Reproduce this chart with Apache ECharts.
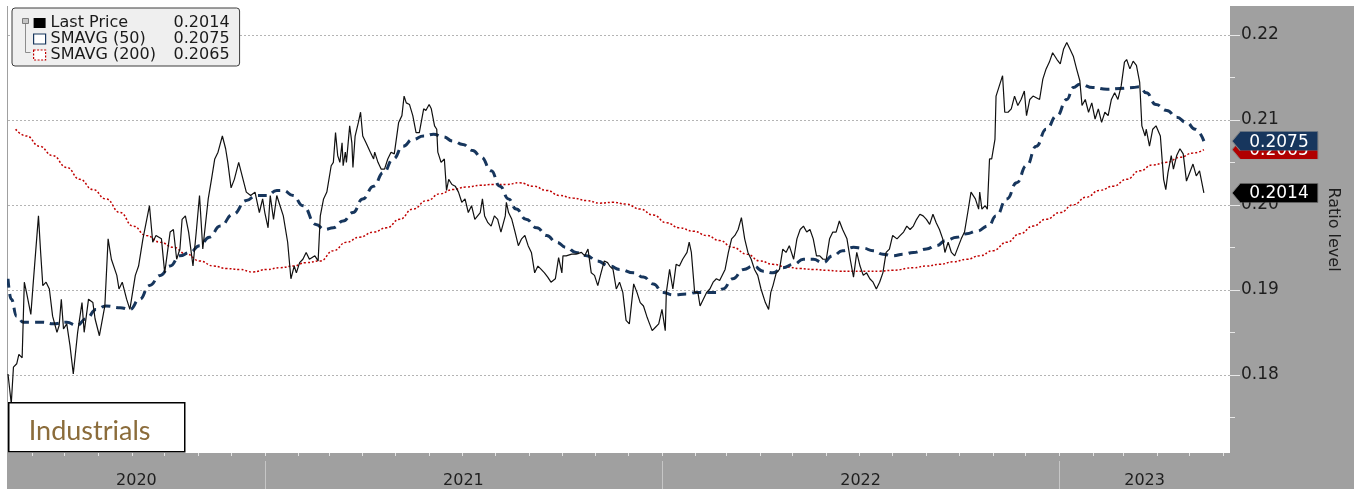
<!DOCTYPE html>
<html>
<head>
<meta charset="utf-8">
<title>Industrials ratio</title>
<script src="https://cdn.jsdelivr.net/npm/echarts@6/dist/echarts.min.js"></script>
<style>
  html, body { margin: 0; padding: 0; background: #fff; }
  #chart { position: absolute; left: 7px; top: 6px; width: 1347px; height: 483px; }
</style>
</head>
<body>
<div id="chart"></div>
<script>
// x values are calendar days counted from 2020-01-01
const priceDays = [
  130, 133, 135, 138, 140, 143, 145, 147, 151, 153,
  158, 160, 162, 165, 168, 171, 175, 177, 179, 181,
  184, 187, 190, 194, 198, 200, 204, 208, 210, 214,
  219, 222, 225, 230, 232, 235, 239, 242, 247, 250,
  254, 260, 263, 266, 271, 274, 279, 282, 285, 288,
  290, 293, 296, 300, 303, 306, 309, 314, 317, 320,
  323, 327, 330, 332, 335, 338, 342, 346, 349, 353,
  357, 361, 364, 366, 369, 371, 374, 377, 380, 383,
  387, 390, 393, 395, 398, 401, 404, 407, 412, 415,
  417, 420, 423, 427, 429, 431, 433, 435, 437, 438,
  440, 441, 444, 446, 447, 449, 452, 454, 456, 459,
  463, 466, 467, 470, 473, 476, 479, 482, 485, 489,
  492, 494, 496, 499, 502, 505, 508, 512, 514, 517,
  519, 522, 524, 525, 528, 531, 533, 535, 538, 541,
  544, 547, 550, 553, 556, 559, 564, 566, 568, 571,
  574, 577, 580, 583, 587, 588, 590, 593, 596, 599,
  602, 605, 608, 611, 614, 617, 620, 623, 626, 629,
  633, 636, 639, 640, 643, 648, 652, 657, 660, 663,
  666, 669, 672, 675, 678, 681, 683, 686, 689, 692,
  695, 698, 701, 705, 708, 711, 714, 717, 719, 722,
  725, 728, 731, 734, 735, 738, 741, 744, 747, 750,
  754, 756, 758, 761, 764, 766, 769, 772, 775, 778,
  781, 784, 789, 792, 795, 798, 801, 804, 807, 810,
  813, 816, 819, 822, 826, 829, 831, 833, 836, 839,
  842, 845, 848, 852, 855, 858, 861, 864, 867, 870,
  873, 876, 879, 882, 885, 888, 891, 894, 897, 901,
  904, 907, 910, 913, 916, 919, 922, 925, 928, 931,
  934, 937, 940, 943, 947, 950, 953, 956, 959, 962,
  965, 968, 971, 974, 977, 980, 983, 986, 989, 991,
  994, 997, 1000, 1003, 1006, 1009, 1012, 1015, 1019, 1022,
  1023, 1025, 1028, 1030, 1032, 1034, 1037, 1038, 1041, 1044,
  1046, 1049, 1052, 1055, 1058, 1061, 1064, 1066, 1069, 1072,
  1075, 1078, 1081, 1084, 1087, 1090, 1094, 1097, 1100, 1103,
  1106, 1109, 1112, 1115, 1117, 1120, 1123, 1126, 1129, 1132,
  1135, 1138, 1141, 1144, 1147, 1150, 1153, 1156, 1158, 1161,
  1164, 1167, 1170, 1172, 1175, 1176, 1179, 1182, 1185, 1189,
  1192, 1194, 1196, 1199, 1201, 1204, 1207, 1210, 1213, 1216,
  1219, 1222, 1225, 1229
];
const priceValues = [
  0.1801, 0.1766, 0.1809, 0.1813, 0.1824, 0.1820, 0.1909, 0.1897, 0.1871, 0.1905,
  0.1987, 0.1944, 0.1905, 0.1909, 0.1901, 0.1869, 0.1850, 0.1858, 0.1889, 0.1854,
  0.1860, 0.1834, 0.1801, 0.1850, 0.1885, 0.1850, 0.1889, 0.1885, 0.1866, 0.1846,
  0.1881, 0.1960, 0.1936, 0.1917, 0.1901, 0.1909, 0.1889, 0.1877, 0.1917, 0.1928,
  0.1960, 0.1999, 0.1956, 0.1964, 0.1960, 0.1920, 0.1968, 0.1971, 0.1936, 0.1948,
  0.1983, 0.1987, 0.1968, 0.1928, 0.1968, 0.2011, 0.1948, 0.2007, 0.2030, 0.2054,
  0.2062, 0.2081, 0.2066, 0.2050, 0.2020, 0.2030, 0.2050, 0.2030, 0.2015, 0.2011,
  0.2015, 0.1991, 0.2007, 0.1991, 0.1973, 0.2011, 0.1983, 0.2011, 0.1999, 0.1987,
  0.1956, 0.1913, 0.1928, 0.1920, 0.1932, 0.1936, 0.1944, 0.1936, 0.1940, 0.1934,
  0.1987, 0.2007, 0.2015, 0.2046, 0.2050, 0.2085, 0.2058, 0.2050, 0.2073, 0.2046,
  0.2062, 0.2050, 0.2093, 0.2073, 0.2044, 0.2081, 0.2097, 0.2109, 0.2081, 0.2073,
  0.2062, 0.2054, 0.2062, 0.2050, 0.2042, 0.2042, 0.2054, 0.2062, 0.2060, 0.2097,
  0.2105, 0.2128, 0.2120, 0.2118, 0.2105, 0.2085, 0.2085, 0.2113, 0.2111, 0.2118,
  0.2113, 0.2093, 0.2089, 0.2062, 0.2050, 0.2054, 0.2017, 0.2030, 0.2024, 0.2022,
  0.2015, 0.2003, 0.2007, 0.1991, 0.1999, 0.1983, 0.1991, 0.2007, 0.1987, 0.1979,
  0.1975, 0.1987, 0.1983, 0.1968, 0.1987, 0.2003, 0.1991, 0.1983, 0.1968, 0.1952,
  0.1960, 0.1964, 0.1952, 0.1944, 0.1920, 0.1928, 0.1924, 0.1920, 0.1915, 0.1909,
  0.1913, 0.1938, 0.1920, 0.1940, 0.1940, 0.1942, 0.1942, 0.1944, 0.1940, 0.1948,
  0.1920, 0.1917, 0.1905, 0.1920, 0.1934, 0.1932, 0.1928, 0.1924, 0.1901, 0.1909,
  0.1897, 0.1864, 0.1860, 0.1907, 0.1897, 0.1885, 0.1881, 0.1869, 0.1862, 0.1852,
  0.1856, 0.1860, 0.1877, 0.1852, 0.1897, 0.1924, 0.1901, 0.1930, 0.1928, 0.1936,
  0.1944, 0.1956, 0.1944, 0.1897, 0.1897, 0.1881, 0.1889, 0.1897, 0.1901, 0.1909,
  0.1913, 0.1911, 0.1924, 0.1944, 0.1960, 0.1964, 0.1971, 0.1985, 0.1960, 0.1944,
  0.1936, 0.1924, 0.1917, 0.1901, 0.1885, 0.1877, 0.1897, 0.1905, 0.1920, 0.1924,
  0.1948, 0.1944, 0.1952, 0.1936, 0.1960, 0.1971, 0.1975, 0.1968, 0.1971, 0.1960,
  0.1940, 0.1940, 0.1936, 0.1936, 0.1960, 0.1968, 0.1968, 0.1981, 0.1971, 0.1960,
  0.1936, 0.1915, 0.1944, 0.1928, 0.1917, 0.1920, 0.1913, 0.1909, 0.1901, 0.1909,
  0.1920, 0.1944, 0.1948, 0.1964, 0.1960, 0.1964, 0.1968, 0.1975, 0.1971, 0.1975,
  0.1983, 0.1989, 0.1987, 0.1983, 0.1977, 0.1989, 0.1979, 0.1971, 0.1960, 0.1944,
  0.1956, 0.1944, 0.1940, 0.1950, 0.1960, 0.1968, 0.1991, 0.2015, 0.2007, 0.1995,
  0.2015, 0.1995, 0.1999, 0.1995, 0.2054, 0.2054, 0.2077, 0.2128, 0.2140, 0.2152,
  0.2109, 0.2109, 0.2113, 0.2128, 0.2117, 0.2124, 0.2134, 0.2105, 0.2124, 0.2128,
  0.2126, 0.2124, 0.2148, 0.2160, 0.2168, 0.2179, 0.2171, 0.2166, 0.2183, 0.2191,
  0.2183, 0.2175, 0.2160, 0.2146, 0.2117, 0.2124, 0.2109, 0.2120, 0.2101, 0.2113,
  0.2097, 0.2109, 0.2105, 0.2124, 0.2132, 0.2124, 0.2140, 0.2168, 0.2171, 0.2160,
  0.2169, 0.2164, 0.2144, 0.2093, 0.2081, 0.2089, 0.2069, 0.2089, 0.2093, 0.2081,
  0.2030, 0.2018, 0.2038, 0.2058, 0.2042, 0.2058, 0.2066, 0.2060, 0.2028, 0.2038,
  0.2048, 0.2034, 0.2040, 0.2014
];

const sma50Days = [
  130, 133, 138, 144, 153, 162, 171, 184, 193, 202,
  211, 220, 233, 242, 251, 260, 270, 279, 288, 297,
  306, 315, 325, 337, 349, 358, 368, 377, 383, 392,
  401, 413, 421, 429, 438, 447, 456, 466, 475, 484,
  493, 502, 512, 521, 530, 539, 548, 557, 565, 574,
  582, 590, 597, 606, 616, 625, 634, 643, 652, 662,
  671, 683, 692, 705, 714, 723, 732, 741, 754, 763,
  772, 781, 787, 796, 806, 815, 824, 833, 842, 852,
  861, 870, 879, 888, 897, 907, 916, 925, 934, 943,
  953, 962, 974, 983, 992, 1002, 1011, 1020, 1031, 1038,
  1048, 1057, 1066, 1075, 1084, 1094, 1103, 1109, 1115, 1127,
  1140, 1152, 1164, 1170, 1176, 1185, 1195, 1204, 1213, 1221,
  1229
];
const sma50Values = [
  0.1913, 0.1889, 0.1869, 0.1862, 0.1862, 0.1862, 0.1860, 0.1862, 0.1858, 0.1866,
  0.1877, 0.1881, 0.1879, 0.1877, 0.1889, 0.1905, 0.1917, 0.1928, 0.1940, 0.1944,
  0.1952, 0.1962, 0.1975, 0.1989, 0.2005, 0.2011, 0.2011, 0.2017, 0.2017, 0.2011,
  0.1999, 0.1977, 0.1971, 0.1973, 0.1981, 0.1991, 0.2007, 0.2022, 0.2038, 0.2054,
  0.2069, 0.2077, 0.2081, 0.2083, 0.2080, 0.2075, 0.2071, 0.2064, 0.2056, 0.2040,
  0.2022, 0.2007, 0.1995, 0.1983, 0.1973, 0.1964, 0.1956, 0.1950, 0.1944, 0.1940,
  0.1934, 0.1928, 0.1924, 0.1920, 0.1915, 0.1907, 0.1897, 0.1894, 0.1895, 0.1897,
  0.1897, 0.1897, 0.1901, 0.1913, 0.1924, 0.1928, 0.1922, 0.1920, 0.1926, 0.1930,
  0.1936, 0.1936, 0.1932, 0.1940, 0.1946, 0.1950, 0.1949, 0.1946, 0.1942, 0.1940,
  0.1942, 0.1944, 0.1948, 0.1952, 0.1958, 0.1962, 0.1966, 0.1969, 0.1975, 0.1987,
  0.2007, 0.2026, 0.2046, 0.2069, 0.2089, 0.2105, 0.2124, 0.2138, 0.2142, 0.2138,
  0.2136, 0.2137, 0.2138, 0.2139, 0.2132, 0.2118, 0.2111, 0.2103, 0.2097, 0.2089,
  0.2075
];

const sma200Days = [
  137, 147, 159, 171, 184, 196, 208, 220, 233, 245,
  257, 270, 282, 294, 306, 319, 331, 343, 355, 368,
  380, 392, 404, 417, 429, 441, 453, 466, 478, 490,
  502, 515, 527, 539, 551, 564, 576, 588, 600, 613,
  625, 637, 649, 662, 674, 686, 698, 711, 723, 735,
  747, 760, 772, 784, 796, 809, 821, 833, 845, 858,
  870, 882, 894, 907, 919, 931, 943, 962, 974, 986,
  999, 1011, 1023, 1035, 1048, 1060, 1072, 1084, 1097, 1109,
  1121, 1133, 1146, 1158, 1170, 1182, 1195, 1207, 1219, 1229
];
const sma200Values = [
  0.2089, 0.2081, 0.2069, 0.2058, 0.2044, 0.2030, 0.2018, 0.2007, 0.1991, 0.1975,
  0.1964, 0.1956, 0.1950, 0.1942, 0.1934, 0.1928, 0.1925, 0.1924, 0.1921, 0.1924,
  0.1926, 0.1928, 0.1932, 0.1934, 0.1946, 0.1956, 0.1962, 0.1968, 0.1973, 0.1983,
  0.1995, 0.2005, 0.2013, 0.2018, 0.2021, 0.2023, 0.2024, 0.2024, 0.2026, 0.2022,
  0.2017, 0.2011, 0.2008, 0.2005, 0.2002, 0.2003, 0.2001, 0.1995, 0.1988, 0.1979,
  0.1973, 0.1969, 0.1964, 0.1958, 0.1950, 0.1942, 0.1934, 0.1930, 0.1927, 0.1925,
  0.1924, 0.1923, 0.1922, 0.1922, 0.1922, 0.1922, 0.1923, 0.1926, 0.1928, 0.1930,
  0.1933, 0.1936, 0.1940, 0.1946, 0.1956, 0.1966, 0.1975, 0.1983, 0.1991, 0.2000,
  0.2009, 0.2017, 0.2022, 0.2030, 0.2040, 0.2047, 0.2050, 0.2056, 0.2061, 0.2065
];

const yLabels = [0.18, 0.19, 0.20, 0.21, 0.22];
const yMinor = [0.175, 0.185, 0.195, 0.205, 0.215];
const years = [2020, 2021, 2022, 2023];

const FONT = '"DejaVu Sans", Verdana, sans-serif';
const NAVY = '#17365d';
const RED = '#c00000';

const toTime = d => new Date(2020, 0, 1 + d).getTime();
const pairs = (days, vals) => days.map((d, i) => [toTime(d), vals[i]]);
const xMin = toTime(130);
const xMax = toTime(1253);

// month ticks along the top of the date band
const monthTicks = [];
for (let m = 5; m <= 41; m++) monthTicks.push(new Date(2020, m, 1).getTime());
const yearStarts = years.slice(1).map(y => new Date(y, 0, 1).getTime());
const yearCenters = years.map(y => {
  const a = Math.max(xMin, new Date(y, 0, 1).getTime());
  const b = Math.min(xMax, new Date(y + 1, 0, 1).getTime());
  return (a + b) / 2;
});

const last = arr => arr[arr.length - 1];
const lastValue = {
  'Last Price': last(priceValues),
  'SMAVG (50)': last(sma50Values),
  'SMAVG (200)': last(sma200Values)
};

function tag(value, color, z) {
  return {
    z: z,
    silent: true,
    symbol: 'path://M0,9L8,0L86,0L86,18L8,18Z',
    symbolSize: [86, 19],
    symbolOffset: [45, 0],
    itemStyle: { color: color, borderColor: '#8a8a8a', borderWidth: 0.5 },
    label: {
      show: true, position: 'inside', offset: [4, 1], color: '#fff',
      fontFamily: FONT, fontSize: 17, formatter: value.toFixed(4)
    },
    data: [{ coord: [xMax, value], value: value }]
  };
}

const chart = echarts.init(document.getElementById('chart'));

const option = {
  animation: false,
  backgroundColor: '#a0a0a0',
  grid: { left: 1, top: 0, right: 124, bottom: 35, show: true, backgroundColor: '#fff', borderWidth: 0 },
  legend: {
    orient: 'vertical', left: 5, top: 2,
    selectedMode: false,
    backgroundColor: '#efefef', borderColor: '#3c3c3c', borderWidth: 1, borderRadius: 3,
    padding: [7, 10, 3, 21],
    itemGap: 0, itemWidth: 12, itemHeight: 10,
    textStyle: {
      fontFamily: FONT, fontSize: 16, color: '#1a1a1a', lineHeight: 15,
      rich: { n: { width: 123, fontFamily: FONT, fontSize: 16 }, v: { fontFamily: FONT, fontSize: 16 } }
    },
    formatter: name => '{n|' + name + '}{v|' + lastValue[name].toFixed(4) + '}',
    data: [
      { name: 'Last Price', icon: 'rect', itemStyle: { color: '#000', borderWidth: 0 } },
      { name: 'SMAVG (50)', icon: 'rect', itemStyle: { color: '#fff', borderColor: NAVY, borderWidth: 1.2 } },
      { name: 'SMAVG (200)', icon: 'rect', itemStyle: { color: '#fff', borderColor: RED, borderWidth: 1.2, borderType: [2, 1.5] } }
    ]
  },
  xAxis: [
    {
      type: 'value', min: xMin, max: xMax,
      axisLine: { show: false }, axisLabel: { show: false }, splitLine: { show: false },
      axisTick: { show: true, customValues: monthTicks, length: 3, lineStyle: { color: '#e4e4e4' } }
    },
    {
      type: 'value', min: xMin, max: xMax, position: 'bottom', offset: 8,
      axisLine: { show: false }, splitLine: { show: false },
      axisTick: { show: true, customValues: yearStarts, length: 30, lineStyle: { color: '#c6c6c6' } },
      axisLabel: {
        customValues: yearCenters, hideOverlap: false,
        formatter: v => String(new Date(v).getFullYear()),
        margin: 12, fontFamily: FONT, fontSize: 16, color: '#1e1e1e'
      }
    }
  ],
  yAxis: [
    {
      type: 'value', position: 'right', min: 0.1708, max: 0.2234,
      axisLine: { show: false },
      axisTick: { show: true, customValues: yLabels, length: 10, lineStyle: { color: '#e8e8e8' } },
      axisLabel: {
        customValues: yLabels, formatter: v => v.toFixed(2),
        margin: 11, fontFamily: FONT, fontSize: 17, color: '#1e1e1e'
      },
      splitLine: { show: true, lineStyle: { color: '#b4b4b4', width: 1, type: [2, 2] } },
      name: 'Ratio level', nameLocation: 'middle', nameRotate: -90, nameGap: 95,
      nameTextStyle: { fontFamily: FONT, fontSize: 16, color: '#1e1e1e' }
    },
    {
      type: 'value', position: 'right', min: 0.1708, max: 0.2234,
      axisLine: { show: false }, axisLabel: { show: false }, splitLine: { show: false },
      axisTick: { show: true, customValues: yMinor, length: 5, lineStyle: { color: '#e8e8e8' } }
    }
  ],
  series: [
    {
      name: 'Last Price', type: 'line', z: 4,
      data: pairs(priceDays, priceValues),
      showSymbol: false,
      lineStyle: { color: '#111', width: 1.2 },
      itemStyle: { color: '#000' },
      markPoint: tag(last(priceValues), '#000', 12)
    },
    {
      name: 'SMAVG (50)', type: 'line', z: 3,
      data: pairs(sma50Days, sma50Values),
      showSymbol: false, smooth: true, smoothMonotone: 'x',
      lineStyle: { color: NAVY, width: 3, type: [9, 6] },
      itemStyle: { color: NAVY },
      markPoint: tag(last(sma50Values), NAVY, 11)
    },
    {
      name: 'SMAVG (200)', type: 'line', z: 2,
      data: pairs(sma200Days, sma200Values),
      showSymbol: false, smooth: true, smoothMonotone: 'x',
      lineStyle: { color: RED, width: 1.5, type: [2, 2] },
      itemStyle: { color: RED },
      markPoint: tag(last(sma200Values), '#b00000', 10)
    }
  ],
  graphic: [
    {
      type: 'group', left: 1, top: 396, z: 100,
      children: [
        { type: 'rect', z: 100, shape: { x: 0, y: 0, width: 176, height: 49 },
          style: { fill: '#fff', stroke: '#000', lineWidth: 1.5 } },
        { type: 'text', z: 101, x: 20, y: 29,
          style: { text: 'Industrials', fill: '#8b6c3b', font: '27px Lato, "Open Sans", sans-serif', textVerticalAlign: 'middle' } }
      ]
    },
    {
      type: 'group', left: 15, top: 12, z: 110,
      children: [
        { type: 'polyline', z: 110, shape: { points: [[3, 5], [3, 34], [8, 34]] }, style: { stroke: '#8c8c8c', lineWidth: 1, fill: null } },
        { type: 'rect', z: 111, shape: { x: 0, y: 0, width: 6, height: 5 }, style: { fill: '#c4c4c4', stroke: '#7a7a7a', lineWidth: 1 } }
      ]
    }
  ]
};

chart.setOption(option);
</script>
</body>
</html>
